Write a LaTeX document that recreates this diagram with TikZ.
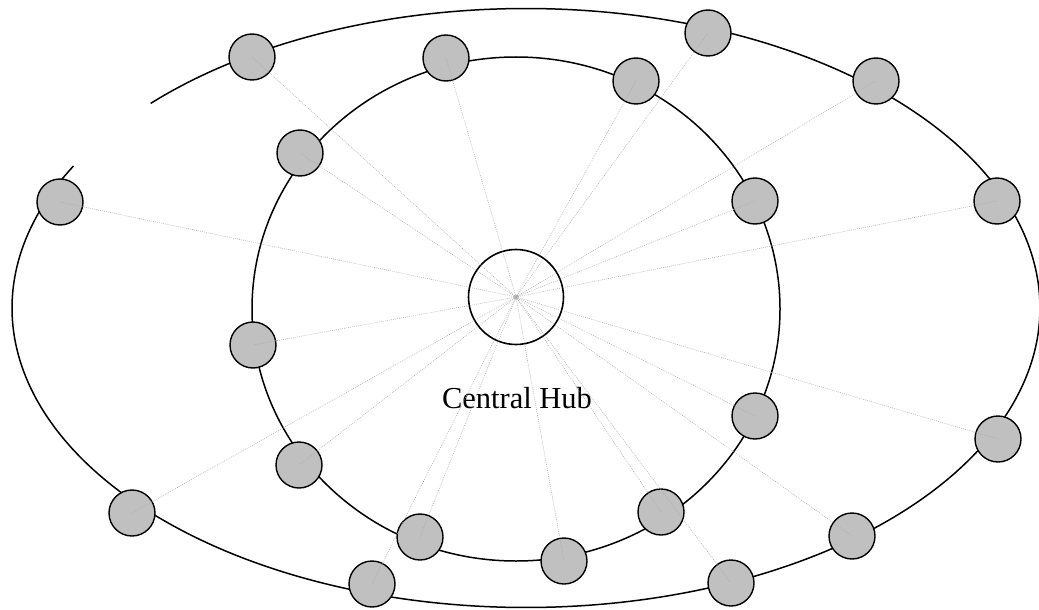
\documentclass[tikz,border=0pt]{standalone}
\usepackage{fontspec}
\setmainfont{Liberation Serif}
\begin{document}
\begin{tikzpicture}[x=1pt,y=-1pt,
  ring/.style={draw=black,line width=1.5pt},
  member/.style={circle,draw=black,line width=1.4pt,fill=silvergray,minimum size=46pt,inner sep=0pt},
  spoke/.style={draw=gray!65,line width=0.6pt,dash pattern=on 0.8pt off 1.2pt},
  hubstyle/.style={circle,draw=black,line width=1.6pt,minimum size=95pt,inner sep=0pt}]
\definecolor{silvergray}{HTML}{C0C0C0}
\useasboundingbox (0,0) rectangle (1039,610);
% rings
\draw[ring] (516,309) ellipse [x radius=264pt, y radius=252pt];
\draw[ring] plot[domain=223.1:568.3,samples=240,smooth] ({526+514*cos(\x)},{308+299.5*sin(\x)});
% hub
\node[hubstyle] (hub) at (516,297) {};
\node[circle,draw=gray,line width=0.5pt,minimum size=4pt,inner sep=0pt] (hc) at (516,297) {};
\node[anchor=base,font=\fontsize{30.5}{36}\selectfont] (lbl) at (517,408) {Central Hub};
% outer ring members
\node[member] (o1) at (252,57) {};
\node[member] (o2) at (708,33) {};
\node[member] (o3) at (876,81) {};
\node[member] (o4) at (997,201) {};
\node[member] (o5) at (998,439) {};
\node[member] (o6) at (852,536) {};
\node[member] (o7) at (731,583) {};
\node[member] (o8) at (372,584) {};
\node[member] (o9) at (132,513) {};
\node[member] (o10) at (60,202) {};
% inner ring members
\node[member] (i1) at (446,58) {};
\node[member] (i2) at (636,81) {};
\node[member] (i3) at (755,201) {};
\node[member] (i4) at (755,416) {};
\node[member] (i5) at (661,512) {};
\node[member] (i6) at (564,561) {};
\node[member] (i7) at (420,537) {};
\node[member] (i8) at (299,465) {};
\node[member] (i9) at (253,345) {};
\node[member] (i10) at (300,153) {};
% spokes
\foreach \n in {o1,o2,o3,o4,o5,o6,o7,o8,o9,o10,i1,i2,i3,i4,i5,i6,i7,i8,i9,i10}
  \draw[spoke] (hc.center) -- (\n.center);
\end{tikzpicture}
\end{document}
